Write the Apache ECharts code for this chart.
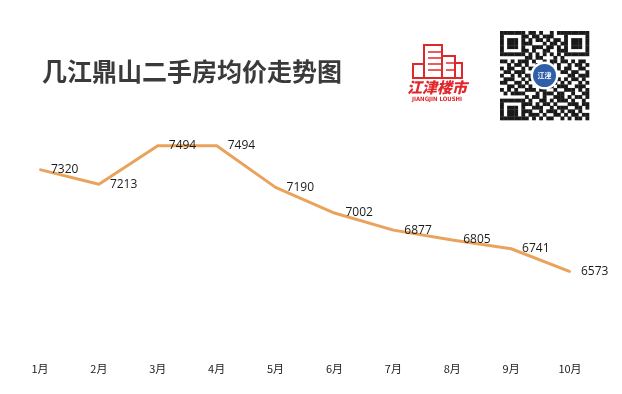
<!DOCTYPE html>
<html><head><meta charset="utf-8">
<script src="https://cdn.jsdelivr.net/npm/echarts@6/dist/echarts.min.js"></script>
<style>html,body{margin:0;padding:0;background:#fff}#c{width:622px;height:394px}</style>
</head><body><div id="c"></div>
<script>
var categories = ['1月','2月','3月','4月','5月','6月','7月','8月','9月','10月'];
var prices = [7320, 7213, 7494, 7494, 7190, 7002, 6877, 6805, 6741, 6573];
var titleText = '几江鼎山二手房均价走势图';

// decorative QR-like pattern (static)
var qrRows = [
 '1111111'+'01101001011'+'1111111',
 '1000001'+'10110111000'+'1000001',
 '1011101'+'01011010110'+'1011101',
 '1011101'+'11000101101'+'1011101',
 '1011101'+'00111011010'+'1011101',
 '1000001'+'10100110011'+'1000001',
 '1111111'+'01010101010'+'1111111',
 '0000000'+'11011000101'+'0000000',
 '1101011101001011011010110',
 '0010110100111010100101101',
 '1011001011010110101100110',
 '0110111001010011011011001',
 '1001010110101101000110111',
 '0111001011100101101011010',
 '1100110100111011010100101',
 '0011011010010110111001110',
 '1010100111011001001110101',
 '0101111000101110110010011',
 '0000000'+'101101001110101101',
 '1111111'+'010011010111010010',
 '1000001'+'110101101000111011',
 '1011101'+'001110010111001101',
 '1011101'+'110010111010110100',
 '1011101'+'011101001101011011',
 '1111111'+'101010110010101101'
];

var qrX = 500, qrY = 31, qrSize = 89, n = 25, m = qrSize / n;
var qrChildren = [];
for (var r = 0; r < qrRows.length; r++) {
  for (var c = 0; c < qrRows[r].length; c++) {
    if (qrRows[r][c] === '1') {
      qrChildren.push({type:'rect', shape:{x:qrX + c*m, y:qrY + r*m, width:m+0.3, height:m+0.3}, style:{fill:'#1a1a1a'}});
    }
  }
}
qrChildren.push({type:'circle', shape:{cx:qrX+qrSize/2, cy:qrY+qrSize/2, r:14}, style:{fill:'#fff'}});
qrChildren.push({type:'circle', shape:{cx:qrX+qrSize/2, cy:qrY+qrSize/2, r:11.5}, style:{fill:'#2f5fa8'}});
qrChildren.push({type:'text', style:{text:'江津', x:qrX+qrSize/2, y:qrY+qrSize/2, fill:'#fff', font:'bold 7px "Noto Sans CJK SC"', align:'center', verticalAlign:'middle'}});

var red = '#e0282c';
var logo = [
  {type:'rect', shape:{x:413, y:64, width:11, height:14}, style:{fill:'none', stroke:red, lineWidth:2}},
  {type:'rect', shape:{x:424, y:45, width:18, height:33}, style:{fill:'none', stroke:red, lineWidth:2}},
  {type:'rect', shape:{x:442, y:56, width:13, height:22}, style:{fill:'none', stroke:red, lineWidth:2}},
  {type:'rect', shape:{x:455, y:63, width:7, height:15}, style:{fill:'none', stroke:red, lineWidth:2}},
  {type:'line', shape:{x1:428, y1:52, x2:442, y2:52}, style:{stroke:red, lineWidth:1.5}},
  {type:'line', shape:{x1:428, y1:58, x2:442, y2:58}, style:{stroke:red, lineWidth:1.5}},
  {type:'line', shape:{x1:428, y1:64, x2:442, y2:64}, style:{stroke:red, lineWidth:1.5}},
  {type:'line', shape:{x1:428, y1:70, x2:442, y2:70}, style:{stroke:red, lineWidth:1.5}},
  {type:'line', shape:{x1:446, y1:63, x2:455, y2:63}, style:{stroke:red, lineWidth:1.5}},
  {type:'line', shape:{x1:446, y1:70, x2:455, y2:70}, style:{stroke:red, lineWidth:1.5}},
  {type:'text', style:{text:'江津楼市', x:437, y:87, fill:red, font:'italic 900 15px "Noto Sans CJK SC"', align:'center', verticalAlign:'middle'}},
  {type:'text', style:{text:'JIANGJIN LOUSHI', x:437, y:99, fill:red, font:'bold 6px "DejaVu Sans Condensed"', align:'center', verticalAlign:'middle'}}
];

var chart = echarts.init(document.getElementById('c'), null, {renderer:'canvas'});
chart.setOption({
  animation:false,
  backgroundColor:'#fff',
  title:{
    text:titleText, left:37, top:54,
    textStyle:{fontFamily:'Noto Sans CJK SC', fontSize:25, fontWeight:'bold', color:'#3a3a3a'}
  },
  grid:{left:40, right:52, top:104, bottom:44},
  xAxis:{
    type:'category', data:categories, boundaryGap:false,
    axisLine:{show:false}, axisTick:{show:false}, splitLine:{show:false},
    axisLabel:{margin:13, fontSize:11, color:'#222', fontFamily:'Noto Sans CJK SC'}
  },
  yAxis:{
    type:'value', min:6000, max:7800, show:false,
    splitLine:{show:false}
  },
  series:[{
    type:'line', data:prices, symbol:'circle', symbolSize:2, showSymbol:true,
    itemStyle:{color:'#e9a35c'},
    lineStyle:{color:'#e9a35c', width:3},
    label:{show:true, position:'right', distance:10, fontSize:12, color:'#1a1a1a', fontFamily:'Open Sans'}
  }],
  graphic:[
    {type:'group', children:logo},
    {type:'group', children:qrChildren}
  ]
});
</script>
</body></html>
